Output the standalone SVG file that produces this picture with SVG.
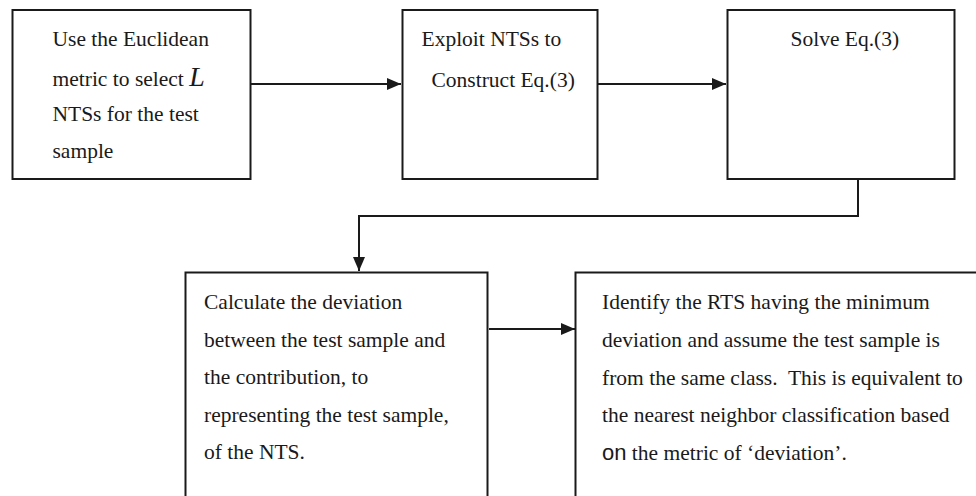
<svg xmlns="http://www.w3.org/2000/svg" width="976" height="496" viewBox="0 0 976 496">
<style>
.box{fill:#fff;stroke:#1a1a1a;stroke-width:2}
.t{font-family:"Liberation Serif","Times New Roman",serif;font-size:21.5px;fill:#1a1a1a}
.c{fill:none;stroke:#1a1a1a;stroke-width:2}
</style>
<defs>
<marker id="ah" viewBox="0 0 14 12" refX="14" refY="6" markerWidth="14" markerHeight="12" markerUnits="userSpaceOnUse" orient="auto">
<path d="M0,0 L14,6 L0,12 Z" fill="#1a1a1a"/>
</marker>
</defs>
<rect width="976" height="496" fill="#fff"/>
<g id="connectors">
<path class="c" d="M251,84 L401,84" marker-end="url(#ah)"/>
<path class="c" d="M598,84 L726,84" marker-end="url(#ah)"/>
<path class="c" d="M858,180 L858,216 L359,216 L359,271" marker-end="url(#ah)"/>
<path class="c" d="M489,329 L575,329" marker-end="url(#ah)"/>
</g>
<g id="n1">
<rect class="box" x="12.5" y="10" width="238" height="169"/>
<text class="t" x="52.5" y="46">Use the Euclidean</text>
<text class="t" x="52.5" y="85.5">metric to select <tspan font-style="italic" font-size="28px">L</tspan></text>
<text class="t" x="52.5" y="120.5">NTSs for the test</text>
<text class="t" x="52.5" y="157.5">sample</text>
</g>
<g id="n2">
<rect class="box" x="402.5" y="10" width="195" height="169"/>
<text class="t" x="421.5" y="46">Exploit NTSs to</text>
<text class="t" x="431.5" y="87">Construct Eq.(3)</text>
</g>
<g id="n3">
<rect class="box" x="727.5" y="10" width="227" height="169"/>
<text class="t" x="790.5" y="46">Solve Eq.(3)</text>
</g>
<g id="n4">
<rect class="box" x="185.5" y="272.5" width="302" height="240"/>
<text class="t" x="204" y="309">Calculate the deviation</text>
<text class="t" x="204" y="346.5">between the test sample and</text>
<text class="t" x="204" y="384">the contribution, to</text>
<text class="t" x="204" y="421.5">representing the test sample,</text>
<text class="t" x="204" y="459">of the NTS.</text>
</g>
<g id="n5">
<rect class="box" x="575.5" y="272.5" width="420" height="240"/>
<text class="t" x="602" y="309">Identify the RTS having the minimum</text>
<text class="t" x="602" y="346.5">deviation and assume the test sample is</text>
<text class="t" x="602" y="384.5">from the same class.&#160; This is equivalent to</text>
<text class="t" x="602" y="422">the nearest neighbor classification based</text>
<text class="t" x="602" y="460"><tspan font-family="'Liberation Sans',Arial,sans-serif" font-size="22px">on</tspan> the metric of ‘deviation’.</text>
</g>
</svg>
